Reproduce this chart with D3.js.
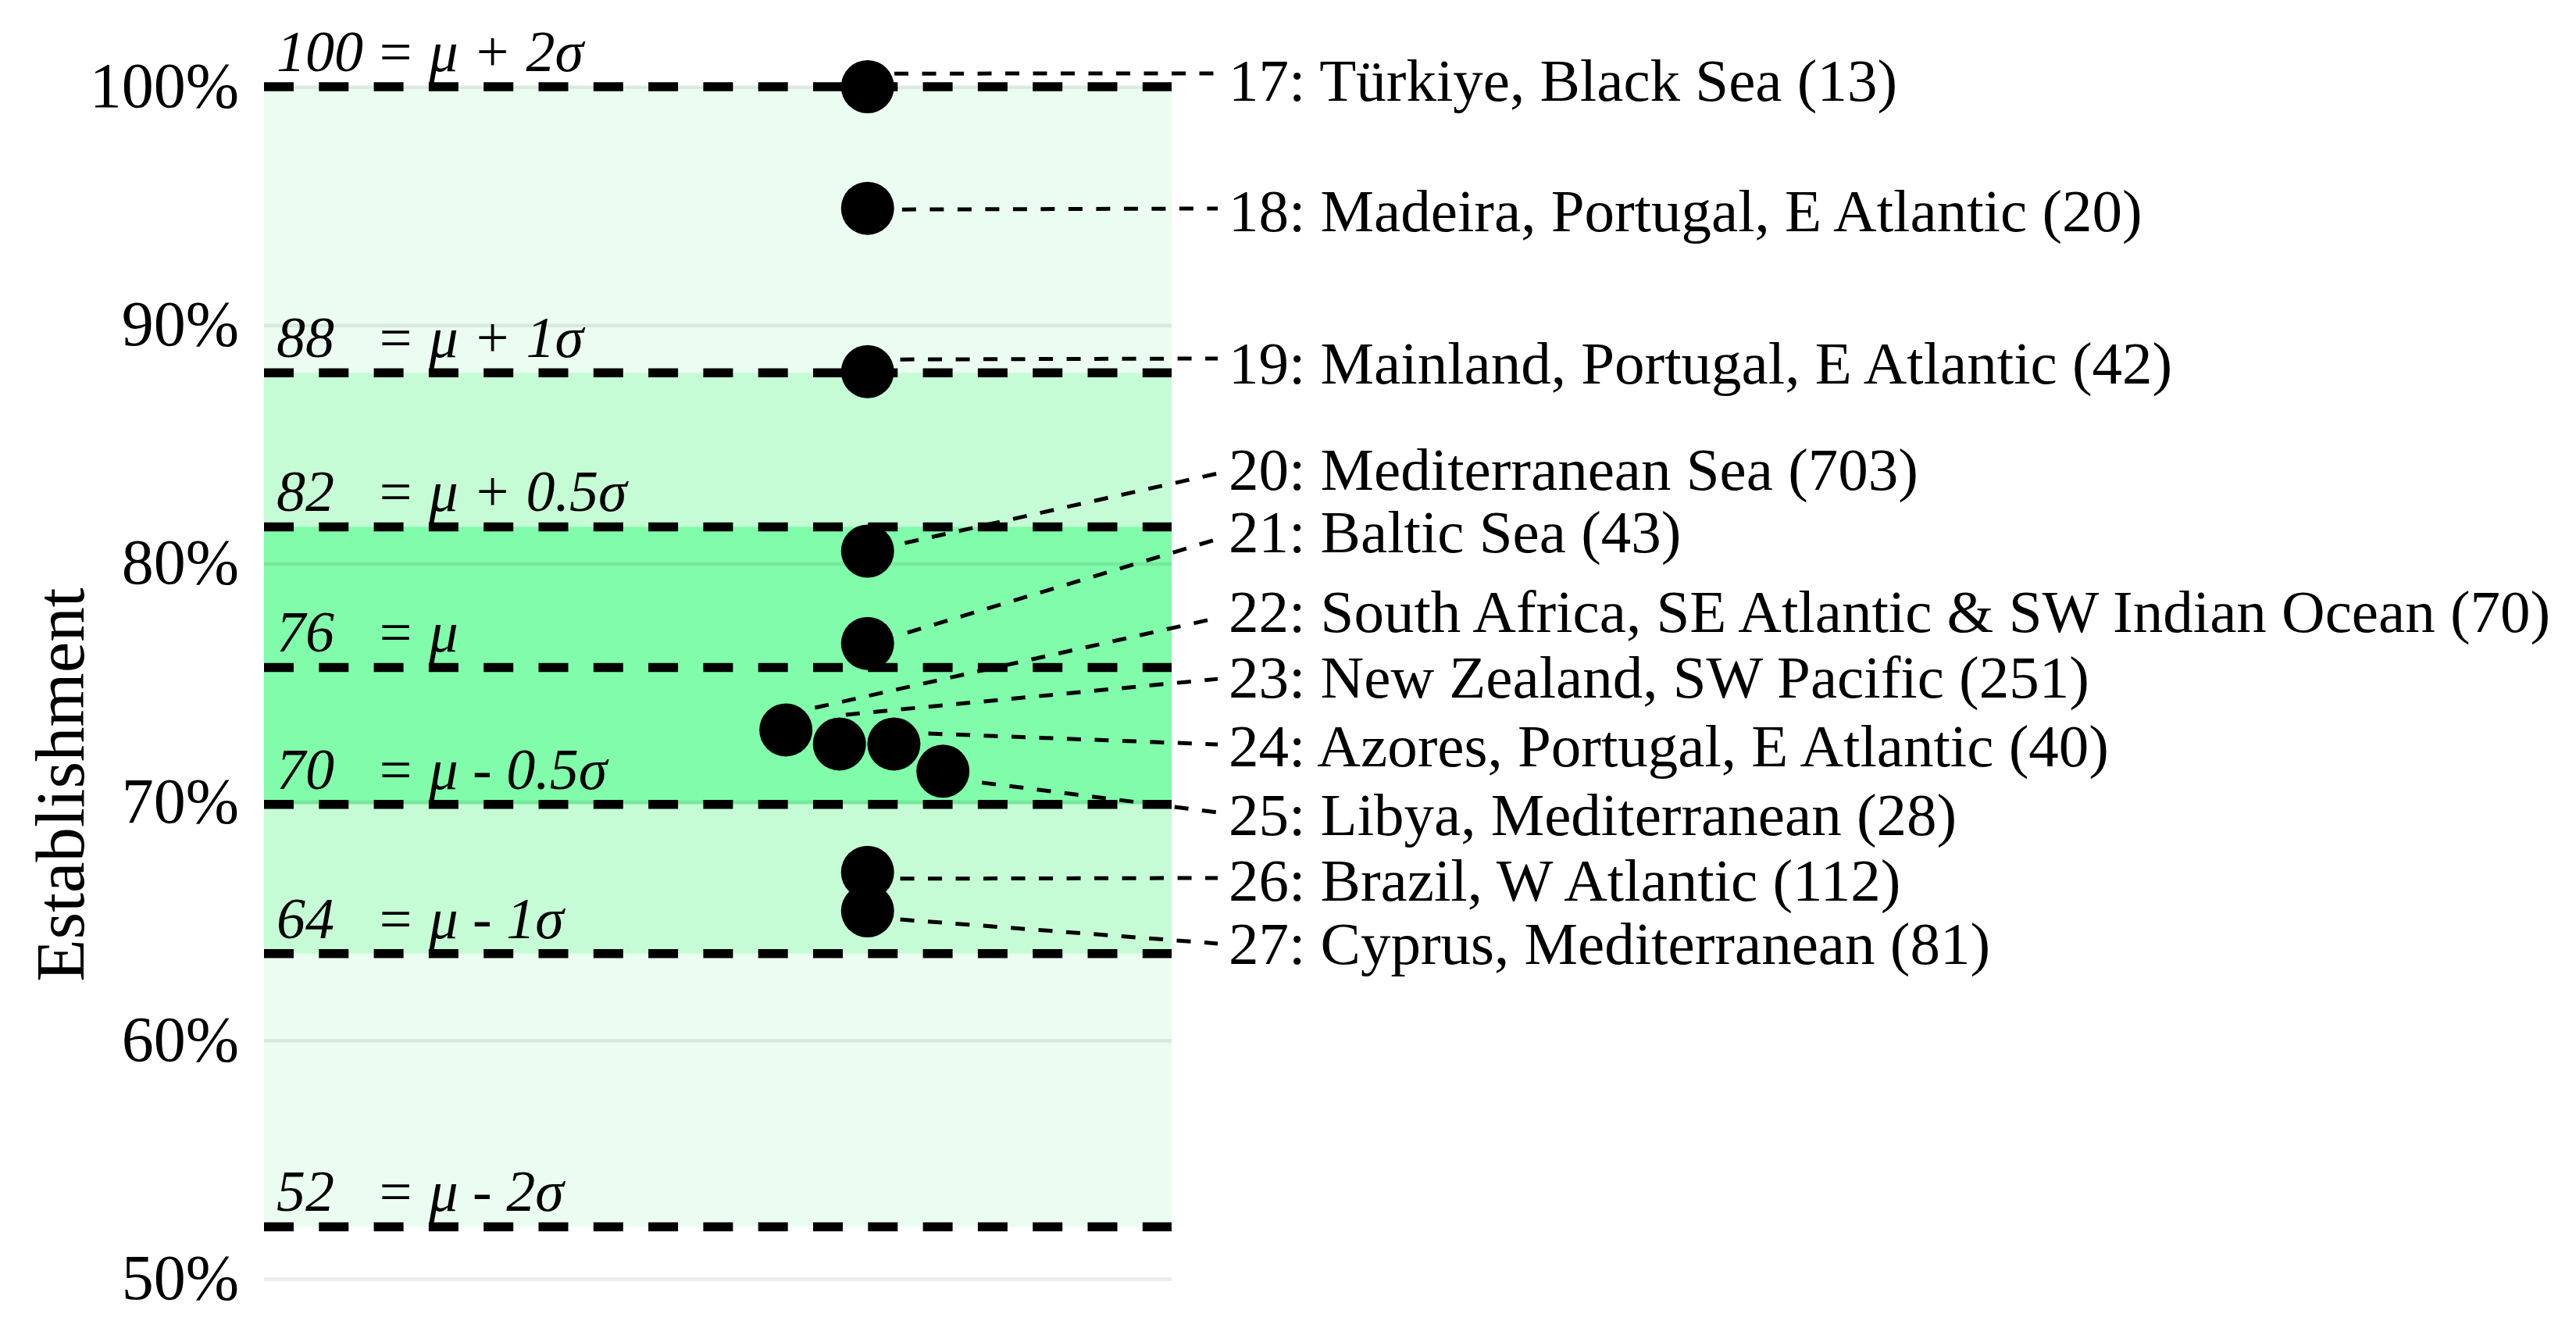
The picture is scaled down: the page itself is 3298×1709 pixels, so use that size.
<!DOCTYPE html>
<html>
<head>
<meta charset="utf-8">
<script src="https://cdn.jsdelivr.net/npm/d3@7"></script>
<style>
  html, body { margin: 0; padding: 0; background: #ffffff; }
  svg { display: block; }
</style>
</head>
<body>
<svg id="chart" width="3298" height="1709"></svg>
<script>
// ---------------- DATA ----------------
const yTicks = [50, 60, 70, 80, 90, 100];
const yTickLabels = ["50%", "60%", "70%", "80%", "90%", "100%"];

// reference (mean / sd) lines
const refValues = [100, 88, 81.54, 75.64, 69.9, 63.64, 52.18];
const refNumbers = ["100", "88", "82", "76", "70", "64", "52"];
const refFormulas = ["= μ + 2σ", "= μ + 1σ", "= μ + 0.5σ", "= μ", "= μ - 0.5σ", "= μ - 1σ", "= μ - 2σ"];

// shaded bands (low, high)
const bandLow = [52.18, 63.64, 69.9];
const bandHigh = [100, 88, 81.54];

// sites
const siteIds = [17, 18, 19, 20, 21, 22, 23, 24, 25, 26, 27];
const siteNames = [
  "Türkiye, Black Sea",
  "Madeira, Portugal, E Atlantic",
  "Mainland, Portugal, E Atlantic",
  "Mediterranean Sea",
  "Baltic Sea",
  "South Africa, SE Atlantic & SW Indian Ocean",
  "New Zealand, SW Pacific",
  "Azores, Portugal, E Atlantic",
  "Libya, Mediterranean",
  "Brazil, W Atlantic",
  "Cyprus, Mediterranean"
];
const siteCounts = [13, 20, 42, 703, 43, 70, 251, 40, 28, 112, 81];
const establishment = [100, 94.9, 88.05, 80.52, 76.65, 73.02, 72.43, 72.43, 71.29, 67.05, 65.43];
// beeswarm horizontal position (0..1 across the panel)
const swarmX = [0.665, 0.665, 0.665, 0.665, 0.665, 0.575, 0.634, 0.694, 0.748, 0.665, 0.665];

// repelled label placement (value units) and leader segment ends
const labelY = [100.26, 94.79, 88.4, 83.96, 81.32, 78.0, 75.24, 72.36, 69.46, 66.72, 64.07];
const segStartX = [0.6945, 0.703, 0.701, 0.706, 0.709, 0.607, 0.641, 0.732, 0.791, 0.701, 0.701];
const segStartY = [100.55, 94.85, 88.56, 80.86, 77.10, 73.95, 73.66, 72.87, 70.81, 66.78, 65.07];
const segEndY = [100.56, 94.89, 88.6, 83.78, 81.03, 77.72, 75.16, 72.41, 69.56, 66.81, 64.06];
const labelX = 1.0628;
const segEndX = 1.0508;
const axisTitle = "Establishment";
const axisTitleAt = 70.72;

// ---------------- STYLE ----------------
const W = 3298, H = 1709;
const bandColors = ["#eafdf0", "#c5fcd6", "#80fcaa"];
const serif = "'Liberation Serif', 'Times New Roman', serif";

const svg = d3.select("#chart");
svg.append("rect").attr("x", 0).attr("y", 0).attr("width", W).attr("height", H).attr("fill", "#ffffff");

const x = d3.scaleLinear().domain([0, 1]).range([338, 1500]);
const y = d3.scaleLinear().domain([50, 100]).range([1637, 111]);

// bands
svg.append("g").selectAll("rect")
  .data(bandLow.map((lo, i) => ({ lo, hi: bandHigh[i], c: bandColors[i] })))
  .join("rect")
  .attr("x", x(0))
  .attr("width", x(1) - x(0))
  .attr("y", d => y(d.hi))
  .attr("height", d => y(d.lo) - y(d.hi))
  .attr("fill", d => d.c);

// gridlines via axis
const grid = svg.append("g")
  .attr("transform", `translate(${x(0)},0)`)
  .call(d3.axisLeft(y).tickValues(yTicks).tickSize(-(x(1) - x(0))).tickFormat(""));
grid.select(".domain").remove();
grid.selectAll(".tick line")
  .attr("stroke", "#000")
  .attr("stroke-opacity", 0.078)
  .attr("stroke-width", 4.5);

// y tick labels via axis
const yAxis = svg.append("g")
  .attr("transform", `translate(306,0)`)
  .call(d3.axisLeft(y).tickValues(yTicks).tickSize(0).tickPadding(0)
    .tickFormat((d, i) => yTickLabels[i]));
yAxis.select(".domain").remove();
yAxis.selectAll("text")
  .attr("font-family", serif)
  .attr("font-size", 82)
  .attr("fill", "#000")
  .attr("dy", "0.31em");

// axis title
svg.append("text")
  .attr("transform", `translate(107, ${y(axisTitleAt)}) rotate(-90)`)
  .attr("text-anchor", "middle")
  .attr("font-family", serif)
  .attr("font-size", 89)
  .attr("fill", "#000")
  .text(axisTitle);

// reference dashed lines
svg.append("g").selectAll("line")
  .data(refValues)
  .join("line")
  .attr("x1", x(0))
  .attr("x2", x(1))
  .attr("y1", d => y(d))
  .attr("y2", d => y(d))
  .attr("stroke", "#000")
  .attr("stroke-width", 11.5)
  .attr("stroke-dasharray", "38,32.3");

// reference annotations
const ann = svg.append("g")
  .attr("font-family", serif)
  .attr("font-style", "italic")
  .attr("font-size", 74)
  .attr("fill", "#000");
ann.selectAll("text.num")
  .data(refValues)
  .join("text")
  .attr("class", "num")
  .attr("x", x(0) + 16)
  .attr("y", d => y(d) - 20)
  .text((d, i) => refNumbers[i]);
ann.selectAll("text.eq")
  .data(refValues)
  .join("text")
  .attr("class", "eq")
  .attr("x", x(0) + 143)
  .attr("y", d => y(d) - 20)
  .text((d, i) => refFormulas[i]);

// leader segments
svg.append("g").selectAll("line")
  .data(siteIds.map((id, i) => i))
  .join("line")
  .attr("x1", i => x(segStartX[i]))
  .attr("y1", i => y(segStartY[i]))
  .attr("x2", x(segEndX))
  .attr("y2", i => y(segEndY[i]))
  .attr("stroke", "#000")
  .attr("stroke-width", 5)
  .attr("stroke-dasharray", "18,17.5");

// points
svg.append("g").selectAll("circle")
  .data(siteIds.map((id, i) => i))
  .join("circle")
  .attr("cx", i => x(swarmX[i]))
  .attr("cy", i => y(establishment[i]))
  .attr("r", 34)
  .attr("fill", "#000");

// labels
svg.append("g").selectAll("text")
  .data(siteIds.map((id, i) => i))
  .join("text")
  .attr("x", x(labelX))
  .attr("y", i => y(labelY[i]))
  .attr("dy", "0.34em")
  .attr("font-family", serif)
  .attr("font-size", 77)
  .attr("fill", "#000")
  .text(i => `${siteIds[i]}: ${siteNames[i]} (${siteCounts[i]})`);
</script>
</body>
</html>
